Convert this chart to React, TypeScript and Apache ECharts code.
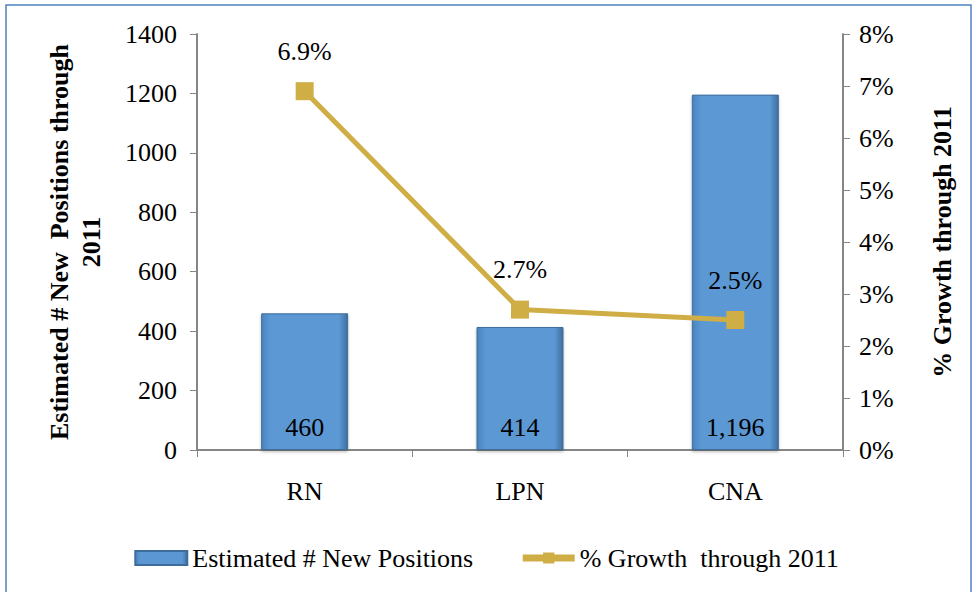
import React, { useEffect, useRef } from "react";
import * as echarts from "echarts";

const categories = ["RN", "LPN", "CNA"];
const newPositions = [460, 414, 1196];
const growthPct = [6.9, 2.7, 2.5];
const leftTicks = [0, 1400, 200];
const rightTicks = [0, 8, 1];

const FONT = "Liberation Serif";

export default function App() {
  const ref = useRef<HTMLDivElement>(null);
  useEffect(() => {
    document.body.style.margin = "0";
    const chart = echarts.init(ref.current!, null, { renderer: "svg" });
    chart.setOption({
      animation: false,
      backgroundColor: "#ffffff",
      textStyle: { fontFamily: FONT, color: "#000" },
      graphic: [
        {
          type: "rect",
          shape: { x: 6, y: 5, width: 965, height: 590 },
          style: { fill: "none", stroke: "#4F81BD", lineWidth: 1.5 },
          silent: true,
        },
      ],
      grid: { left: 197, right: 130, top: 34, bottom: 142 },
      legend: {
        bottom: 16,
        left: "center",
        itemGap: 46,
        itemWidth: 52,
        itemHeight: 14,
        textStyle: { fontFamily: FONT, fontSize: 26, color: "#000" },
        data: [
          { name: "Estimated # New Positions", icon: "rect" },
          { name: "% Growth  through 2011", lineStyle: { width: 7 } },
        ],
      },
      xAxis: {
        type: "category",
        data: categories,
        axisLine: { lineStyle: { color: "#868686", width: 2 } },
        axisTick: { show: true, length: 7, lineStyle: { color: "#868686" } },
        axisLabel: { fontFamily: FONT, fontSize: 26, color: "#000", margin: 28 },
      },
      yAxis: [
        {
          type: "value",
          min: leftTicks[0],
          max: leftTicks[1],
          interval: leftTicks[2],
          name: "Estimated # New  Positions through\n2011",
          nameLocation: "middle",
          nameRotate: 90,
          nameGap: 90,
          nameTextStyle: { fontFamily: FONT, fontSize: 26, fontWeight: "bold", color: "#000", lineHeight: 32 },
          axisLine: { show: true, lineStyle: { color: "#868686", width: 2 } },
          axisTick: { show: true, length: 7, lineStyle: { color: "#868686" } },
          axisLabel: {
            fontFamily: FONT,
            fontSize: 26,
            color: "#000",
            margin: 20,
            formatter: (v: number) => String(v),
          },
          splitLine: { show: false },
        },
        {
          type: "value",
          min: rightTicks[0],
          max: rightTicks[1],
          interval: rightTicks[2],
          position: "right",
          name: "% Growth through 2011",
          nameLocation: "middle",
          nameRotate: 90,
          nameGap: 86,
          nameTextStyle: { fontFamily: FONT, fontSize: 26, fontWeight: "bold", color: "#000" },
          axisLine: { show: true, lineStyle: { color: "#868686", width: 2 } },
          axisTick: { show: true, length: 7, lineStyle: { color: "#868686" } },
          axisLabel: { fontFamily: FONT, fontSize: 26, color: "#000", margin: 16, formatter: "{value}%" },
          splitLine: { show: false },
        },
      ],
      series: [
        {
          name: "Estimated # New Positions",
          type: "bar",
          yAxisIndex: 0,
          data: newPositions,
          barWidth: 87,
          itemStyle: {
            color: new echarts.graphic.LinearGradient(0, 0, 1, 0, [
              { offset: 0, color: "#4A84BE" },
              { offset: 0.1, color: "#5B98D3" },
              { offset: 0.9, color: "#5B98D3" },
              { offset: 1, color: "#3F6F9F" },
            ]),
            borderColor: "#3E6D9C",
            borderWidth: 1,
            shadowColor: "rgba(0,0,0,0.25)",
            shadowBlur: 3,
            shadowOffsetY: 2,
          },
          label: {
            show: true,
            position: "insideBottom",
            distance: 10,
            fontFamily: FONT,
            fontSize: 26,
            color: "#000",
            formatter: (p: any) => p.value.toLocaleString("en-US"),
          },
          z: 1,
        },
        {
          name: "% Growth  through 2011",
          type: "line",
          yAxisIndex: 1,
          data: growthPct,
          symbol: "rect",
          symbolSize: 18,
          lineStyle: { color: "#CFAE45", width: 5 },
          itemStyle: { color: "#CFAE45" },
          label: {
            show: true,
            position: "top",
            distance: 18,
            fontFamily: FONT,
            fontSize: 26,
            color: "#000",
            formatter: (p: any) => p.value.toFixed(1) + "%",
          },
          z: 3,
        },
      ],
    });
    return () => chart.dispose();
  }, []);
  return (
    <div
      ref={ref}
      style={{ position: "absolute", left: 0, top: 0, width: 973, height: 592 }}
    />
  );
}
